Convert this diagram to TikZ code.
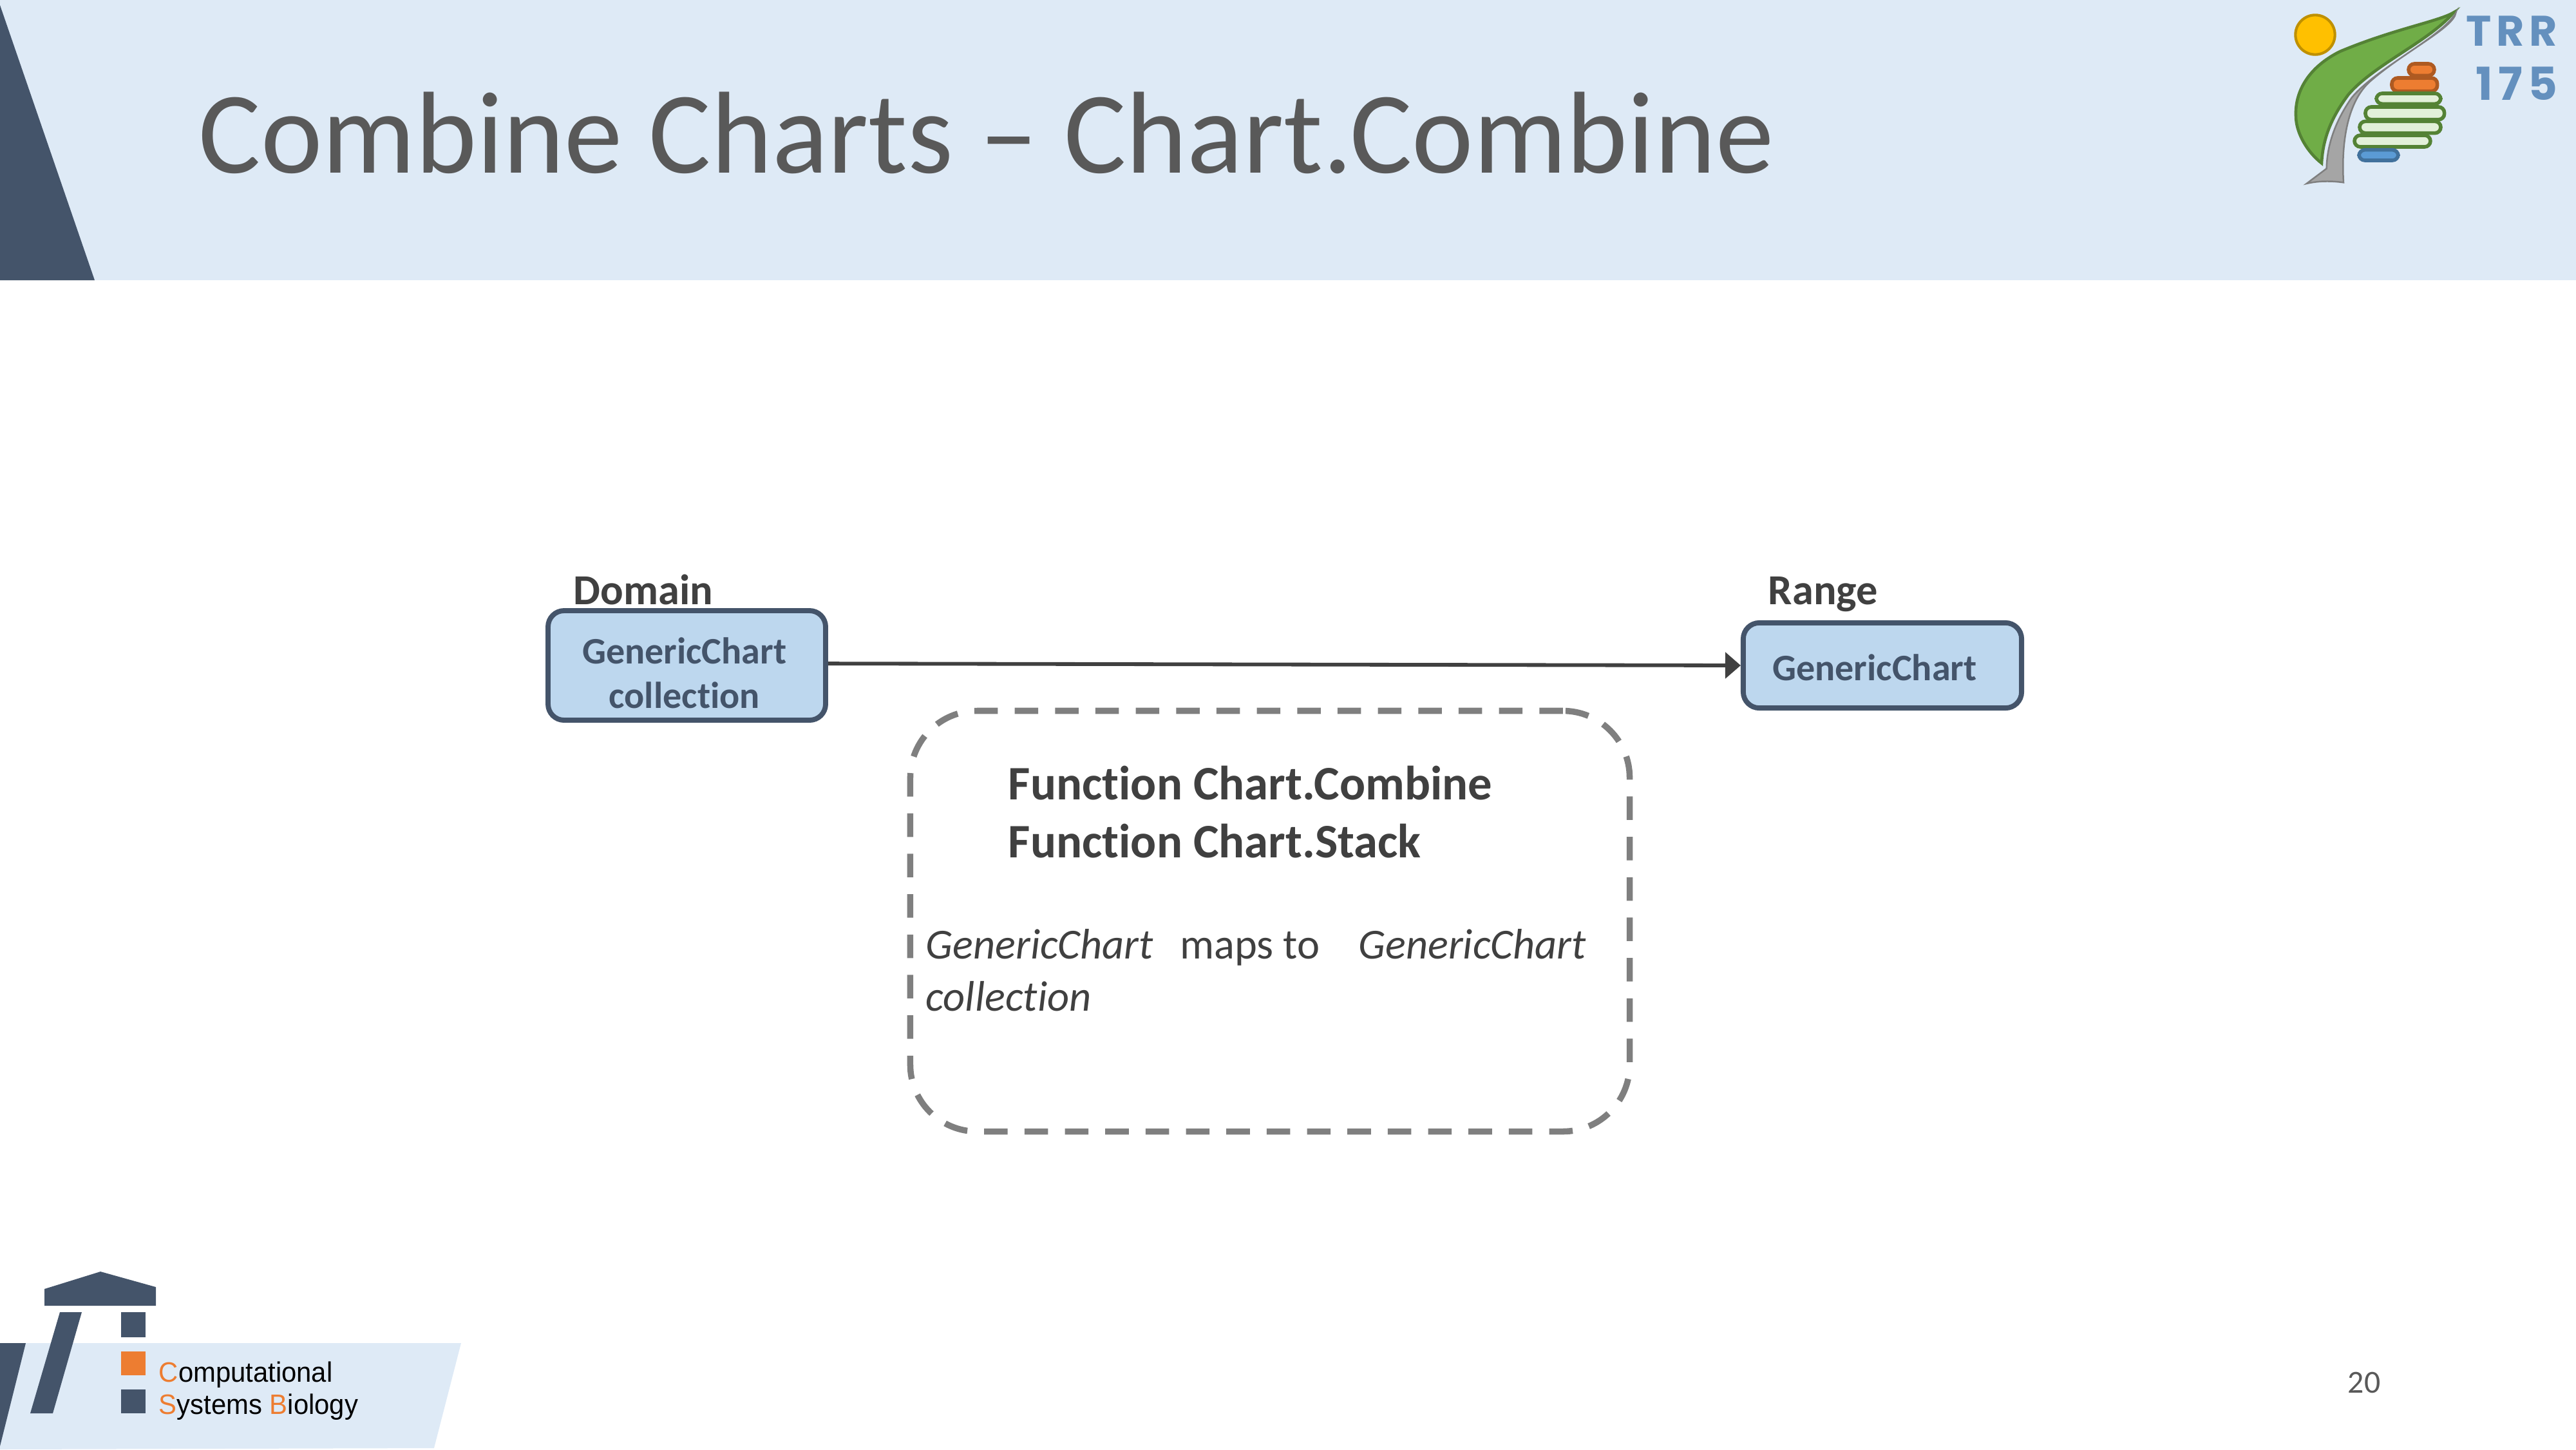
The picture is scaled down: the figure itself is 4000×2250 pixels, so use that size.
\documentclass[tikz,border=0pt]{standalone}
\usepackage{fontspec}
\setmainfont[RawFeature={-liga}]{Carlito}
\newfontfamily\logofont[LetterSpace=12]{Poppins}
\newfontfamily\groupfont[FakeStretch=0.96]{Liberation Sans}
\usepackage{xcolor}
\definecolor{slideband}{RGB}{222, 234, 246}
\definecolor{slidedark}{RGB}{68, 84, 106}
\definecolor{slidetitle}{RGB}{89, 89, 89}
\definecolor{slidetext}{RGB}{64, 64, 64}
\definecolor{slidegray}{RGB}{127, 127, 127}
\definecolor{slideorange}{RGB}{237, 125, 49}
\definecolor{chartblue}{RGB}{189, 215, 238}
\definecolor{logoblue}{RGB}{100, 144, 190}
\definecolor{logogreen}{RGB}{112, 173, 71}
\definecolor{logoleaf}{RGB}{84, 130, 53}
\definecolor{logopale}{RGB}{226, 240, 217}
\definecolor{logotrunk}{RGB}{165, 165, 165}
\definecolor{logosun}{RGB}{255, 192, 0}
\definecolor{logosunline}{RGB}{191, 144, 0}
\definecolor{logorust}{RGB}{174, 90, 33}
\definecolor{logowater}{RGB}{91, 155, 213}
\definecolor{logowaterline}{RGB}{65, 113, 156}
\usetikzlibrary{arrows.meta}

\tikzset{
    chartbox/.style={draw=slidedark, fill=chartblue, line width=1.9pt, rounded corners=6pt, align=center, text=slidedark, inner sep=0pt, font=\fontsize{14}{16.8}\selectfont\bfseries},
    headlabel/.style={anchor=base west, inner sep=0pt, text=slidetext, font=\fontsize{16}{19.2}\selectfont\bfseries},
    greenpill/.style={draw=logoleaf, fill=logopale, line width=1.35pt, rounded corners=2.2pt},
    orangepill/.style={draw=logorust, fill=slideorange, line width=1.35pt, rounded corners=2.2pt},
    bluepill/.style={draw=logowaterline, fill=logowater, line width=1.35pt, rounded corners=2.2pt}
}

\begin{document}
\begin{tikzpicture}[x=0.0084667cm, y=-0.0084667cm]
    \useasboundingbox (0, 0) rectangle (4000, 2250);

    % Header band
    \fill[slideband] (0, 0) rectangle (4000, 435);
    \fill[slidedark] (0, 8) -- (147, 435) -- (0, 435) -- cycle;
    \node[anchor=base west, inner sep=0pt, text=slidetitle, font=\fontsize{43.6}{52}\selectfont] (title) at (308, 268) {Combine Charts -- Chart.Combine};

    % Footer group logo
    \fill[slideband] (0, 2085) -- (716, 2085) -- (674, 2248) -- (0, 2250) -- cycle;
    \fill[slidedark] (0, 2085) -- (40, 2085) -- (0, 2245) -- cycle;
    \fill[slidedark] (69, 2001) -- (156, 1974) -- (242, 1998) -- (242, 2027) -- (69, 2027) -- cycle;
    \fill[slidedark] (93, 2037) -- (127, 2037) -- (82, 2194) -- (47, 2194) -- cycle;
    \fill[slidedark] (188, 2037) rectangle (226, 2076);
    \fill[slideorange] (188, 2098) rectangle (226, 2135);
    \fill[slidedark] (188, 2157) rectangle (226, 2194);
    \node[anchor=base west, inner sep=0pt, font=\fontsize{10.5}{12}\selectfont\groupfont] (groupone) at (246, 2145) {\textcolor{slideorange}{C}omputational};
    \node[anchor=base west, inner sep=0pt, font=\fontsize{10.5}{12}\selectfont\groupfont] (grouptwo) at (246, 2195) {\textcolor{slideorange}{S}ystems \textcolor{slideorange}{B}iology};
    \node[anchor=base west, inner sep=0pt, text=slidetitle, font=\fontsize{12}{14}\selectfont] (pagenum) at (3645, 2162) {20};

    % Project logo, in thirds of a pixel
    \begin{scope}[shift={(3500, 0)}, scale=0.3333]
        \draw[draw=logosunline, fill=logosun, line width=1pt] (285, 162) circle (92);
        \draw[draw=logoleaf, fill=logogreen, line width=1.1pt]
            (930, 58) .. controls (860, 100) and (650, 135) .. (400, 240)
            .. controls (260, 310) and (190, 420) .. (195, 540)
            .. controls (195, 620) and (250, 710) .. (315, 760)
            .. controls (320, 660) and (350, 560) .. (440, 440)
            .. controls (560, 300) and (820, 190) .. (930, 58) -- cycle;
        \draw[draw=slidegray, fill=logotrunk, line width=0.6pt]
            (940, 60) .. controls (930, 130) and (700, 240) .. (540, 380)
            .. controls (440, 470) and (405, 650) .. (417, 850)
            .. controls (360, 842) and (300, 842) .. (245, 855)
            -- (338, 785)
            .. controls (340, 680) and (375, 570) .. (455, 455)
            .. controls (565, 320) and (880, 170) .. (940, 60) -- cycle;
        \foreach \xa/\ya/\xb/\yb/\kind in {720/297/840/352/orangepill, 642/363/854/425/orangepill, 468/630/822/684/greenpill, 492/565/870/620/greenpill, 519/498/887/557/greenpill, 570/435/870/484/greenpill, 489/698/672/747/bluepill}
            \draw[\kind] (\xa, \ya) rectangle (\xb, \yb);
        \node[anchor=base west, inner sep=0pt, text=logoblue, font=\fontsize{16}{18}\selectfont\logofont\bfseries] (trr) at (985, 215) {TRR};
        \node[anchor=base west, inner sep=0pt, text=logoblue, font=\fontsize{17}{18}\selectfont\logofont\bfseries] (oneseven) at (1030, 468) {175};
    \end{scope}

    % Mapping
    \node[chartbox, minimum width=3.65cm, minimum height=1.44cm] (domain) at (1066.5, 1033) {\rule{0pt}{15.5pt}GenericChart\kern1.8pt\\collection\kern1.8pt};
    \node[chartbox, minimum width=3.66cm, minimum height=1.12cm] (range) at (2923, 1033) {\rule{0pt}{11.5pt}GenericChart\hspace{5.8pt}};
    \node[headlabel] (domainlabel) at (890, 938) {Domain};
    \node[headlabel] (rangelabel) at (2745, 938) {Range};
    \draw[-{Triangle[length=24*0.0084667cm, width=40*0.0084667cm]}, slidetext, line width=1.4pt] ([yshift=0.7pt]domain.east) -- (range.west);

    % Function description
    \node[draw=slidegray, line width=2.3pt, dash pattern=on 8.8pt off 6.3pt, rounded corners=25pt, minimum width=9.46cm, minimum height=5.53cm] (funcbox) at (1972, 1430) {};
    \node[anchor=base west, inner sep=0pt, align=left, text=slidetext, font=\fontsize{18}{21.6}\selectfont\bfseries] (funcnames) at (1565, 1331) {Function Chart.Combine\\Function Chart.Stack};
    \node[anchor=base west, inner sep=0pt, align=left, text=slidetext, font=\fontsize{16}{19.5}\selectfont] (funcmap) at (1437, 1569) {\textit{GenericChart}\hspace{10pt}maps to\hspace{14.5pt}\textit{GenericChart}\\\textit{collection}};
\end{tikzpicture}
\end{document}
